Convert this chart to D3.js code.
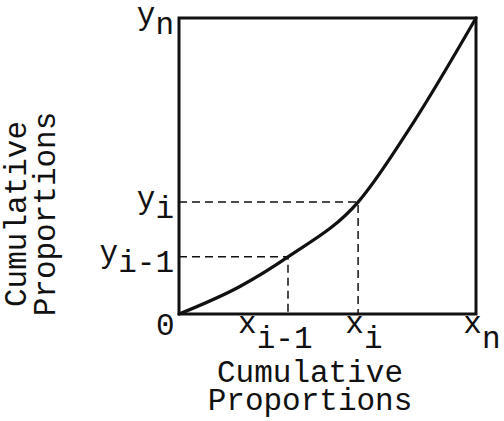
<!DOCTYPE html>
<html>
<head>
<meta charset="utf-8">
<script src="https://cdn.jsdelivr.net/npm/d3@7"></script>
<style>
  body { margin: 0; background: #fff; }
  svg text { font-family: "Liberation Mono", "Courier New", monospace; font-size: 31px; fill: #111; }
</style>
</head>
<body>
<div id="chart"></div>
<script>
// curve (cumulative proportions, 0..1 on both axes)
const curveX = [0, 0.205, 0.367, 0.603, 0.788, 1];
const curveY = [0, 0.093, 0.193, 0.378, 0.645, 1];

// the two marked points with dashed guides
const guideX = [0.367, 0.603];
const guideY = [0.193, 0.378];

// tick labels: main letter + subscript
const xTicks = [0, 0.367, 0.603, 1];
const xTickMain = ['0', 'x', 'x', 'x'];
const xTickSub = ['', 'i-1', 'i', 'n'];
const yTicks = [0.193, 0.378, 1];
const yTickMain = ['y', 'y', 'y'];
const yTickSub = ['i-1', 'i', 'n'];

const titleLines = ['Cumulative', 'Proportions'];

const margin = { top: 18, right: 28, bottom: 107, left: 179 };
const width = 504 - margin.left - margin.right;
const height = 421 - margin.top - margin.bottom;

const svg = d3.select('#chart')
  .append('svg')
  .attr('width', 504)
  .attr('height', 421)
  .append('g')
  .attr('transform', `translate(${margin.left},${margin.top})`);

const x = d3.scaleLinear().domain([0, 1]).range([0, width]);
const y = d3.scaleLinear().domain([0, 1]).range([height, 0]);

// dashed guides
guideX.forEach((gx, i) => {
  const gy = guideY[i];
  svg.append('path')
    .attr('d', `M${x(0)},${y(gy)}H${x(gx)}V${y(0)}`)
    .attr('fill', 'none')
    .attr('stroke', '#111')
    .attr('stroke-width', 1.5)
    .attr('stroke-dasharray', '8,5');
});

// frame
svg.append('rect')
  .attr('x', x(0))
  .attr('y', y(1))
  .attr('width', x(1) - x(0))
  .attr('height', y(0) - y(1))
  .attr('fill', 'none')
  .attr('stroke', '#111')
  .attr('stroke-width', 3);

// curve
const line = d3.line()
  .x(d => x(d[0]))
  .y(d => y(d[1]))
  .curve(d3.curveMonotoneX);

svg.append('path')
  .datum(curveX.map((v, i) => [v, curveY[i]]))
  .attr('d', line)
  .attr('fill', 'none')
  .attr('stroke', '#111')
  .attr('stroke-width', 3.2)
  .attr('stroke-linecap', 'round');

// axes (ticks only, labels rebuilt with subscripts)
const xAxis = svg.append('g')
  .attr('transform', `translate(0,${height})`)
  .call(d3.axisBottom(x).tickValues(xTicks).tickSize(0));
xAxis.select('.domain').remove();
xAxis.selectAll('.tick text').each(function (d, i) {
  const t = d3.select(this)
    .attr('y', 19)
    .attr('dy', null)
    .attr('font-size', null)
    .attr('font-family', null)
    .attr('fill', null)
    .text(null);
  if (xTickSub[i] === '') {
    t.attr('text-anchor', 'end').attr('x', -5).attr('y', 21).text(xTickMain[i]);
  } else {
    t.attr('text-anchor', 'end').attr('x', 24);
    t.append('tspan').text(xTickMain[i]);
    t.append('tspan').attr('dy', 15).text(xTickSub[i]);
  }
});

const yAxis = svg.append('g')
  .call(d3.axisLeft(y).tickValues(yTicks).tickSize(0));
yAxis.select('.domain').remove();
yAxis.selectAll('.tick text').each(function (d, i) {
  const t = d3.select(this)
    .attr('x', -5)
    .attr('y', 5)
    .attr('dy', null)
    .attr('font-size', null)
    .attr('font-family', null)
    .attr('fill', null)
    .attr('text-anchor', 'end')
    .text(null);
  t.append('tspan').text(yTickMain[i]);
  t.append('tspan').attr('dy', 10).text(yTickSub[i]);
});

// axis titles
svg.append('g')
  .selectAll('text')
  .data(titleLines)
  .join('text')
  .attr('text-anchor', 'middle')
  .attr('x', 131)
  .attr('y', (d, i) => height + 68 + i * 28)
  .text(d => d);

svg.append('g')
  .attr('transform', `translate(${-margin.left},${height / 2 + 48}) rotate(-90)`)
  .selectAll('text')
  .data(titleLines)
  .join('text')
  .attr('text-anchor', 'middle')
  .attr('x', 0)
  .attr('y', (d, i) => 26 + i * 29)
  .text(d => d);
</script>
</body>
</html>
